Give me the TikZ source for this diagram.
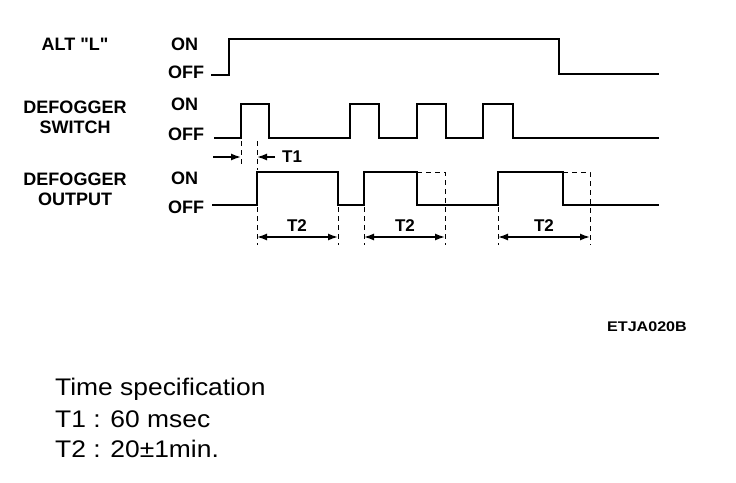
\documentclass[tikz,border=0pt]{standalone}
\usepackage{fontspec}
\setmainfont{Liberation Sans}[Ligatures=TeXOff]
\newfontfamily\specfont{Liberation Sans}[Ligatures=TeXOff,FakeStretch=1.1]
\newfontfamily\codefont{Liberation Sans}[Ligatures=TeXOff,FakeStretch=1.15]
\usetikzlibrary{arrows.meta}
\begin{document}
\begin{tikzpicture}[x=1pt,y=-1pt,
  lab/.style={font=\bfseries\fontsize{18}{20}\selectfont, align=center, inner sep=0pt},
  lvl/.style={font=\bfseries\fontsize{18}{20}\selectfont, anchor=west, inner sep=0pt},
  wave/.style={line width=2pt, line join=miter, line cap=rect},
  ext/.style={line width=1pt, dash pattern=on 5pt off 4pt},
  dim/.style={line width=1.5pt, {Latex[length=10pt,width=7pt]}-{Latex[length=10pt,width=7pt]}},
  dimr/.style={line width=1.5pt, -{Latex[length=10pt,width=7pt]}},
  dl/.style={font=\bfseries\fontsize{17}{18}\selectfont, inner sep=0pt},
  spec/.style={font=\specfont\fontsize{24}{26}\selectfont, anchor=west, inner sep=0pt}]
\useasboundingbox (0,0) rectangle (736,482);
% row labels
\node[lab] (alt) at (75,44) {ALT "L"};
\node[lab] (sw1) at (75,107) {DEFOGGER};
\node[lab] (sw2) at (75,127) {SWITCH};
\node[lab] (op1) at (75,179) {DEFOGGER};
\node[lab] (op2) at (75,199) {OUTPUT};
\node[lvl] (altOn) at (171,44) {ON};
\node[lvl] (altOff) at (168,72) {OFF};
\node[lvl] (swOn) at (171,104) {ON};
\node[lvl] (swOff) at (168,134) {OFF};
\node[lvl] (opOn) at (171,178) {ON};
\node[lvl] (opOff) at (168,207) {OFF};
% waveforms
\draw[wave] (212,75)--(229,75)--(229,39)--(559,39)--(559,74)--(658,74);
\draw[wave] (215,138)--(241,138)--(241,104)--(269,104)--(269,138)--(350,138)--(350,104)--(379,104)--(379,138)--(417,138)--(417,104)--(446,104)--(446,138)--(483,138)--(483,104)--(513,104)--(513,138)--(658,138);
\draw[wave] (213,205)--(257,205)--(257,172)--(338,172)--(338,205)--(364,205)--(364,172)--(417,172)--(417,205)--(498,205)--(498,172)--(563,172)--(563,205)--(658,205);
% dashed continuations
\draw[ext] (417,172)--(445,172)--(445,245);
\draw[ext] (563,172)--(590,172)--(590,245);
\draw[ext] (257,207)--(257,245);
\draw[ext] (338,207)--(338,245);
\draw[ext] (364,207)--(364,245);
\draw[ext] (498,207)--(498,245);
% T1
\coordinate (t1a) at (241,157);
\coordinate (t1b) at (257,157);
\coordinate (t1l) at (213,157);
\coordinate (t1r) at (275,157);
\draw[ext] (241,141)--(241,165);
\draw[ext] (257,141)--(257,170);
\draw[dimr] (t1l) -- (t1a);
\draw[dimr] (t1r) -- (t1b);
\node[dl, anchor=west] (t1) at (282,157) {T1};
% T2
\coordinate (a1) at (257,237); \coordinate (b1) at (338,237);
\coordinate (a2) at (364,237); \coordinate (b2) at (445,237);
\coordinate (a3) at (498,237); \coordinate (b3) at (590,237);
\draw[dim] (a1) -- (b1);
\draw[dim] (a2) -- (b2);
\draw[dim] (a3) -- (b3);
\node[dl] (t2a) at (297,226) {T2};
\node[dl] (t2b) at (405,226) {T2};
\node[dl] (t2c) at (544,226) {T2};
% code
\node[font=\codefont\bfseries\fontsize{14}{15}\selectfont, inner sep=0pt] (code) at (647,327) {ETJA020B};
% spec
\node[spec] (s1) at (55,389) {Time specification};
\node[spec] (s2) at (55,419) {T1 : 60 msec};
\node[spec] (s3) at (55,449) {T2 : 20±1min.};
\end{tikzpicture}
\end{document}
